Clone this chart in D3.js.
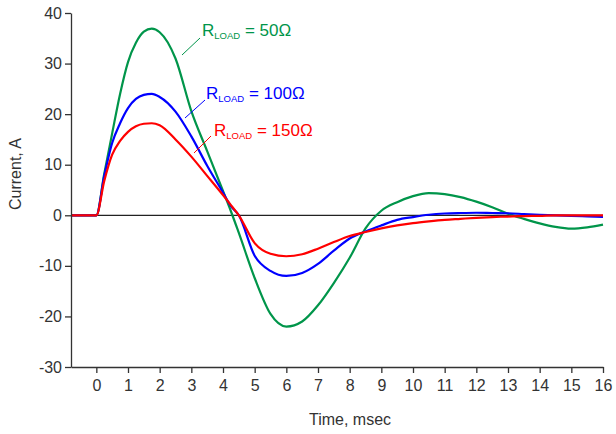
<!DOCTYPE html>
<html lang="en">
<head>
<meta charset="UTF-8">
<title>Current vs time</title>
<style type="text/css">
	body { margin: 0; background: #fff; }
	svg { font-family: Arial, "Liberation Sans", sans-serif; }
	.axis path, .axis line { stroke: #333; stroke-width: 1.3px; }
	.axis text { fill: #333; font-size: 16px; }
	.title { fill: #333; font-size: 16px; }
</style>
</head>
<body>
<svg id="chart" width="616" height="434"></svg>

<script src="https://cdn.jsdelivr.net/npm/d3@7"></script>
<script>
	"use strict";

	// time in msec
	var times = [-0.8, 0, 0.25, 0.5, 0.75, 1, 1.25, 1.5, 1.75, 2, 2.5, 3, 3.5, 4, 4.25, 4.5,
		5, 5.5, 6, 6.5, 7, 7.5, 8, 8.5, 9, 9.5, 10, 10.5, 11, 11.5, 12, 12.5, 13, 13.5,
		14, 14.5, 15, 15.5, 16];

	var current50 = [0, 0, 8.2, 16.2, 24, 30.3, 34.1, 36.3, 36.9, 36.2, 31, 20.6, 12.7, 4.8, 0.8, -3.5,
		-12.4, -19.5, -22, -21, -17.8, -13.4, -8.4, -2.6, 0.9, 2.6, 3.8, 4.4, 4.2, 3.6, 2.7, 1.6, 0.3, -0.7,
		-1.6, -2.3, -2.65, -2.4, -1.85];

	var current100 = [0, 0, 7.8, 14.3, 18.2, 21.2, 23, 23.8, 24, 23.4, 20.5, 15.6, 9.8, 4.5, 1.8, 0,
		-8, -11, -12, -11.4, -9.6, -7.0, -4.6, -3.2, -2.0, -0.9, -0.35, 0.1, 0.35, 0.45, 0.5, 0.45, 0.4, 0.25,
		0.1, 0, -0.1, -0.2, -0.3];

	var current150 = [0, 0, 6.8, 12, 14.7, 16.5, 17.6, 18.1, 18.2, 17.8, 15.0, 11.6, 7.8, 4.0, 2.0, 0,
		-5.5, -7.6, -8.1, -7.7, -6.6, -5.3, -4.1, -3.3, -2.6, -2.0, -1.55, -1.2, -0.9, -0.7, -0.5, -0.35, -0.25, -0.15,
		-0.1, 0, 0, 0, 0];

	var xTicks = d3.range(0, 17);
	var yTicks = [-30, -20, -10, 0, 10, 20, 30, 40];

	var series = [
		{values: current50, color: "#00954a", label: "50Ω", lx: 202, ly: 36, lead: [[200, 38], [182, 55]]},
		{values: current100, color: "#0000ff", label: "100Ω", lx: 206, ly: 99, lead: [[205, 100], [185, 118]]},
		{values: current150, color: "#ff0000", label: "150Ω", lx: 214, ly: 136, lead: [[211, 136], [194, 153]]}
	];

	var plotLeft = 71, plotRight = 603, plotTop = 13, plotBottom = 367;

	var svg = d3.select("#chart");

	var x = d3.scaleLinear().domain([-0.8, 16]).range([plotLeft, plotRight]);
	var y = d3.scaleLinear().domain([-30, 40]).range([plotBottom, plotTop]);

	// zero line
	svg.append("line")
	  .attr("x1", plotLeft).attr("x2", plotRight)
	  .attr("y1", y(0)).attr("y2", y(0))
	  .attr("stroke", "#222").attr("stroke-width", 1.3);

	var line = d3.line()
	  .x(function(d){ return x(d[0]); })
	  .y(function(d){ return y(d[1]); })
	  .curve(d3.curveMonotoneX);

	svg.selectAll("path.curve")
	  .data(series)
	  .enter()
	  .append("path")
	  .attr("class", "curve")
	  .attr("fill", "none")
	  .attr("stroke", function(d){ return d.color; })
	  .attr("stroke-width", 2.2)
	  .attr("d", function(d){
		  return line(times.map(function(t, i){ return [t, d.values[i]]; }));
	  });

	// axes (plain hyphen for negatives, as in the original)
	var fmt = function(d){ return String(d); };

	svg.append("g")
	  .attr("class", "axis")
	  .attr("transform", "translate(0," + plotBottom + ")")
	  .call(d3.axisBottom(x).tickValues(xTicks).tickFormat(fmt).tickSize(6).tickSizeOuter(0).tickPadding(7));

	svg.append("g")
	  .attr("class", "axis")
	  .attr("transform", "translate(" + plotLeft + ",0)")
	  .call(d3.axisLeft(y).tickValues(yTicks).tickFormat(fmt).tickSize(6).tickSizeOuter(0).tickPadding(3));

	// axis titles
	svg.append("text")
	  .attr("class", "title")
	  .attr("x", 350).attr("y", 425)
	  .attr("text-anchor", "middle")
	  .text("Time, msec");

	svg.append("text")
	  .attr("class", "title")
	  .attr("transform", "translate(21,174) rotate(-90)")
	  .attr("text-anchor", "middle")
	  .text("Current, A");

	// labels
	var lab = svg.selectAll("g.lab")
	  .data(series)
	  .enter()
	  .append("g")
	  .attr("class", "lab");

	lab.append("line")
	  .attr("x1", function(d){ return d.lead[0][0]; })
	  .attr("y1", function(d){ return d.lead[0][1]; })
	  .attr("x2", function(d){ return d.lead[1][0]; })
	  .attr("y2", function(d){ return d.lead[1][1]; })
	  .attr("stroke", function(d){ return d.color; })
	  .attr("stroke-width", 1);

	var txt = lab.append("text")
	  .attr("x", function(d){ return d.lx; })
	  .attr("y", function(d){ return d.ly; })
	  .attr("fill", function(d){ return d.color; })
	  .style("font-size", "17px");
	txt.append("tspan").text("R");
	txt.append("tspan").attr("dy", 3).style("font-size", "9.5px").text("LOAD");
	txt.append("tspan").attr("dy", -3).text(function(d){ return " = " + d.label; });
</script>
</body>
</html>
